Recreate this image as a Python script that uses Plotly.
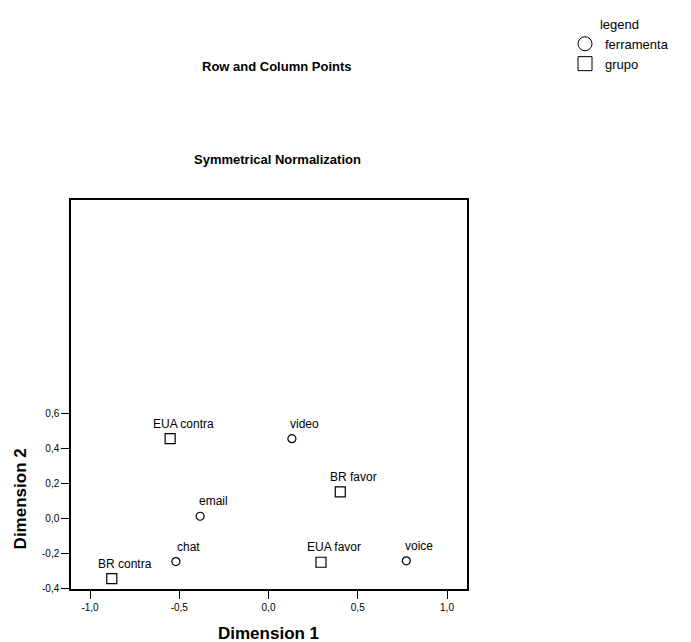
import plotly.graph_objects as go

# ---- data ----
tool_labels = ["email", "chat", "video", "voice"]          # ferramenta (rows)
tool_dim1 = [-0.383, -0.519, 0.131, 0.772]
tool_dim2 = [0.015, -0.244, 0.459, -0.240]

group_labels = ["EUA contra", "BR contra", "BR favor", "EUA favor"]  # grupo (columns)
group_dim1 = [-0.551, -0.878, 0.402, 0.294]
group_dim2 = [0.459, -0.342, 0.154, -0.248]

x_tickvals = [-1.0, -0.5, 0.0, 0.5, 1.0]
x_ticktext = ["-1,0", "-0,5", "0,0", "0,5", "1,0"]
y_tickvals = [-0.4, -0.2, 0.0, 0.2, 0.4, 0.6]
y_ticktext = ["-0,4", "-0,2", "0,0", "0,2", "0,4", "0,6"]

FONT = "Liberation Sans, Arial, sans-serif"
W, H = 691, 642
ML, MR, MT, MB = 71, 224, 194, 53
PW, PH = W - ML - MR, H - MT - MB


def px(xp):
    return (xp - ML) / PW


def py(yp):
    return (H - yp - MB) / PH


fig = go.Figure()

# data traces (no legend)
fig.add_trace(go.Scatter(
    x=tool_dim1, y=tool_dim2, mode="markers", name="ferramenta",
    marker=dict(symbol="circle-open", size=8, color="black", line=dict(width=1.2)),
    showlegend=False, hoverinfo="skip"))
fig.add_trace(go.Scatter(
    x=group_dim1, y=group_dim2, mode="markers", name="grupo",
    marker=dict(symbol="square-open", size=10, color="black", line=dict(width=1.2)),
    showlegend=False, hoverinfo="skip"))

# legend-only entries with larger symbols
fig.add_trace(go.Scatter(
    x=[None], y=[None], mode="markers", name="ferramenta",
    marker=dict(symbol="circle-open", size=14, color="black", line=dict(width=1))))
fig.add_trace(go.Scatter(
    x=[None], y=[None], mode="markers", name="grupo",
    marker=dict(symbol="square-open", size=14, color="black", line=dict(width=1))))

# point labels
for lbls, xs, ys in ((tool_labels, tool_dim1, tool_dim2), (group_labels, group_dim1, group_dim2)):
    for t, xv, yv in zip(lbls, xs, ys):
        fig.add_annotation(x=xv, y=yv, xref="x", yref="y", text=t, showarrow=False,
                           xanchor="center", yanchor="middle", xshift=13, yshift=15,
                           font=dict(family=FONT, size=12, color="black"))

# titles
fig.add_annotation(x=px(277), y=py(58), xref="paper", yref="paper", text="<b>Row and Column Points</b>",
                   showarrow=False, xanchor="center", yanchor="middle",
                   font=dict(family=FONT, size=13, color="black"))
fig.add_annotation(x=px(277), y=py(153), xref="paper", yref="paper", text="<b>Symmetrical Normalization</b>",
                   showarrow=False, xanchor="center", yanchor="middle",
                   font=dict(family=FONT, size=13, color="black"))

# axis titles
fig.add_annotation(x=px(268), y=py(634), xref="paper", yref="paper", text="<b>Dimension 1</b>",
                   showarrow=False, xanchor="center", yanchor="middle",
                   font=dict(family=FONT, size=17, color="black"))
fig.add_annotation(x=px(20), y=py(498), xref="paper", yref="paper", text="<b>Dimension 2</b>",
                   textangle=-90, showarrow=False, xanchor="center", yanchor="middle",
                   font=dict(family=FONT, size=17, color="black"))

fig.update_layout(
    width=W, height=H,
    margin=dict(l=ML, r=MR, t=MT, b=MB),
    paper_bgcolor="white", plot_bgcolor="white",
    font=dict(family=FONT, size=10, color="black"),
    legend=dict(
        title=dict(text="legend", side="top center", font=dict(family=FONT, size=13)),
        font=dict(family=FONT, size=13, color="black"),
        x=px(565), xanchor="left", y=py(3), yanchor="top",
        bgcolor="rgba(0,0,0,0)", tracegroupgap=0, itemwidth=30,
    ),
    xaxis=dict(
        range=[-1.1065, 1.112], tickvals=x_tickvals, ticktext=x_ticktext,
        showgrid=False, zeroline=False, showline=True, linecolor="black", linewidth=1.5,
        mirror=True, ticks="outside", ticklen=8, tickcolor="black", tickwidth=1,
        tickfont=dict(family=FONT, size=10, color="black"),
    ),
    yaxis=dict(
        range=[-0.401, 1.824], tickvals=y_tickvals, ticktext=y_ticktext,
        showgrid=False, zeroline=False, showline=True, linecolor="black", linewidth=1.5,
        mirror=True, ticks="outside", ticklen=8, tickcolor="black", tickwidth=1,
        tickfont=dict(family=FONT, size=10, color="black"),
    ),
)

fig.write_html("out.html")
